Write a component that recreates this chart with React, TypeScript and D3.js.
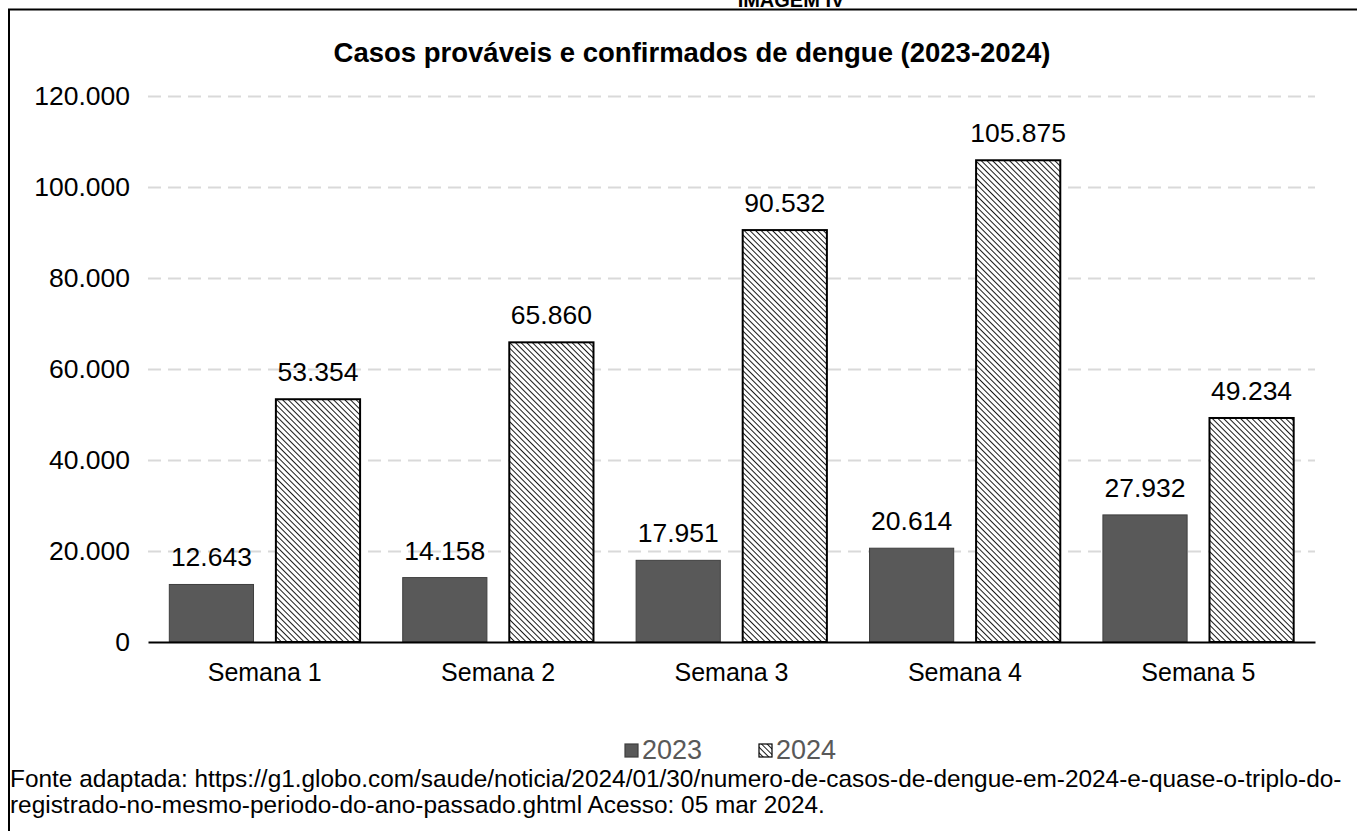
import React, { useEffect, useRef } from "react";
import * as d3 from "d3";

// chart values
const semanas = ["Semana 1", "Semana 2", "Semana 3", "Semana 4", "Semana 5"];
const anos = ["2023", "2024"];
const casos2023 = [12643, 14158, 17951, 20614, 27932];
const casos2024 = [53354, 65860, 90532, 105875, 49234];
const yTicks = [0, 20000, 40000, 60000, 80000, 100000, 120000];

const titulo = "Casos prováveis e confirmados de dengue (2023-2024)";
const fonte1 =
  "Fonte adaptada: https://g1.globo.com/saude/noticia/2024/01/30/numero-de-casos-de-dengue-em-2024-e-quase-o-triplo-do-";
const fonte2 = "registrado-no-mesmo-periodo-do-ano-passado.ghtml Acesso: 05 mar 2024.";

const FONT = "'Liberation Sans', Arial, sans-serif";

function App() {
  const ref = useRef<SVGSVGElement>(null);

  useEffect(() => {
    const width = 1357;
    const height = 831;
    const left = 148;
    const right = 1315;
    const bottom = 642;
    const top = 96;

    const ptBR = d3.formatLocale({ decimal: ",", thousands: ".", grouping: [3], currency: ["R$", ""] });
    const fmt = ptBR.format(",d");

    const svg = d3.select(ref.current)
      .attr("width", width)
      .attr("height", height)
      .attr("viewBox", [0, 0, width, height].join(" "));
    svg.selectAll("*").remove();

    // hatch pattern for 2024
    const defs = svg.append("defs");
    defs.append("pattern")
      .attr("id", "hatch")
      .attr("patternUnits", "userSpaceOnUse")
      .attr("width", 4)
      .attr("height", 4)
      .attr("patternTransform", "rotate(-45)")
      .call(p => p.append("rect").attr("width", 4).attr("height", 4).attr("fill", "#fff"))
      .append("line")
      .attr("x1", 0).attr("y1", 0).attr("x2", 0).attr("y2", 4)
      .attr("stroke", "#000")
      .attr("stroke-width", 1.8);

    // frame (the heading above is cut off in the source too)
    svg.append("text")
      .attr("x", 791).attr("y", 7)
      .attr("text-anchor", "middle")
      .attr("font-family", FONT).attr("font-weight", "bold").attr("font-size", 20)
      .text("IMAGEM IV");
    svg.append("path")
      .attr("d", `M9,${height} V9.5 H${width}`)
      .attr("fill", "none").attr("stroke", "#000").attr("stroke-width", 2);

    const x = d3.scaleBand<string>().domain(semanas).range([left, right]);
    const xs = d3.scaleBand<string>().domain(anos).range([0, x.bandwidth()])
      .paddingInner(0.21).paddingOuter(0.2);
    const y = d3.scaleLinear().domain([0, 120000]).range([bottom, top]);

    svg.append("text")
      .attr("x", 692).attr("y", 62)
      .attr("text-anchor", "middle")
      .attr("font-family", FONT).attr("font-weight", "bold").attr("font-size", 27.5)
      .text(titulo);

    // y axis + dashed grid
    const yAxis = d3.axisLeft(y).tickValues(yTicks).tickFormat(d => fmt(+d)).tickSize(0).tickPadding(18);
    svg.append("g")
      .attr("transform", `translate(${left},0)`)
      .call(yAxis)
      .call(g => g.select(".domain").remove())
      .call(g => g.selectAll(".tick text")
        .attr("font-family", FONT).attr("font-size", 26.5).attr("fill", "#000"))
      .call(g => g.selectAll(".tick").filter(d => +d > 0).append("line")
        .attr("x1", 0).attr("x2", right - left)
        .attr("stroke", "#d9d9d9").attr("stroke-width", 2)
        .attr("stroke-dasharray", "13,7"));

    const data = semanas.map((s, i) => ({ s, v: [casos2023[i], casos2024[i]] }));

    const grp = svg.append("g").selectAll("g").data(data).join("g")
      .attr("transform", d => `translate(${x(d.s)},0)`);

    grp.selectAll("rect").data(d => d.v.map((v, j) => ({ ano: anos[j], v }))).join("rect")
      .attr("x", d => xs(d.ano)!)
      .attr("width", xs.bandwidth())
      .attr("y", d => y(d.v))
      .attr("height", d => y(0) - y(d.v))
      .attr("fill", d => d.ano === "2023" ? "#595959" : "url(#hatch)")
      .attr("stroke", d => d.ano === "2023" ? "#3f3f3f" : "#000")
      .attr("stroke-width", d => d.ano === "2023" ? 1 : 2);

    grp.selectAll("text").data(d => d.v.map((v, j) => ({ ano: anos[j], v }))).join("text")
      .attr("x", d => xs(d.ano)! + xs.bandwidth() / 2)
      .attr("y", d => y(d.v) - 18)
      .attr("text-anchor", "middle")
      .attr("font-family", FONT).attr("font-size", 26.5)
      .text(d => fmt(d.v));

    // x axis
    const xAxis = d3.axisBottom(x).tickSize(0).tickPadding(21);
    svg.append("g")
      .attr("transform", `translate(0,${bottom})`)
      .call(xAxis)
      .call(g => g.select(".domain").attr("stroke", "#000").attr("stroke-width", 2))
      .call(g => g.selectAll(".tick text")
        .attr("font-family", FONT).attr("font-size", 25).attr("fill", "#000"));

    // legend
    const leg = svg.append("g").attr("transform", "translate(625,744)");
    anos.forEach((a, i) => {
      const gx = i * 134;
      leg.append("rect")
        .attr("x", gx).attr("y", 0).attr("width", 13).attr("height", 13)
        .attr("fill", a === "2023" ? "#595959" : "url(#hatch)")
        .attr("stroke", a === "2023" ? "#3f3f3f" : "#000")
        .attr("stroke-width", 1.2);
      leg.append("text")
        .attr("x", gx + 17).attr("y", 15)
        .attr("font-family", FONT).attr("font-size", 27).attr("fill", "#595959")
        .text(a);
    });

    // source
    svg.append("text")
      .attr("x", 10).attr("y", 787)
      .attr("font-family", FONT).attr("font-size", 24.4)
      .text(fonte1);
    svg.append("text")
      .attr("x", 10).attr("y", 813)
      .attr("font-family", FONT).attr("font-size", 24.4)
      .text(fonte2);
  }, []);

  return (
    <svg ref={ref} style={{ position: "absolute", left: 0, top: 0, background: "#fff" }}></svg>
  );
}

export default App;
